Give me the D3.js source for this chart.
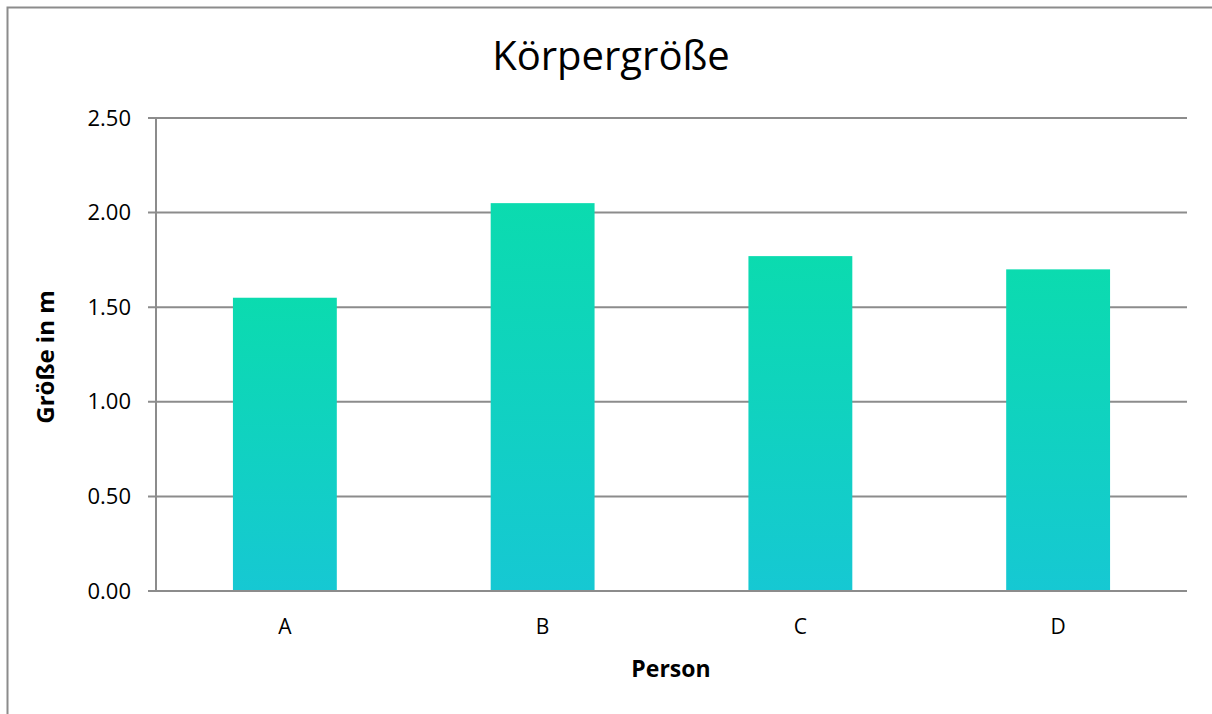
<!DOCTYPE html>
<html>
<head>
<meta charset="utf-8">
<script src="https://cdn.jsdelivr.net/npm/d3@7"></script>
<style>
  body { margin: 0; background: #fff; }
  text { font-family: "Open Sans", "Noto Sans", sans-serif; fill: #000; }
</style>
</head>
<body>
<div id="chart"></div>
<script>
var persons = ["A", "B", "C", "D"];
var heights = [1.55, 2.05, 1.77, 1.70];
var yTicks = [0, 0.5, 1.0, 1.5, 2.0, 2.5];

var svgWidth = 1212;
var svgHeight = 714;
var margin = {
    top: 118,
    right: 25,
    bottom: 123,
    left: 156
};
var width = svgWidth - margin.left - margin.right;
var height = svgHeight - margin.top - margin.bottom;

var svg = d3.select("#chart")
    .append("svg")
    .attr("width", svgWidth)
    .attr("height", svgHeight);

// chart frame
svg.append("rect")
    .attr("x", 7.5)
    .attr("y", 7.5)
    .attr("width", 1220)
    .attr("height", 720)
    .attr("fill", "none")
    .attr("stroke", "#8c8c8c")
    .attr("stroke-width", 2);

var grad = svg.append("defs").append("linearGradient")
    .attr("id", "barFill")
    .attr("x1", 0).attr("y1", 0)
    .attr("x2", 0).attr("y2", 1);
grad.append("stop").attr("offset", "0%").attr("stop-color", "#0bdbaf");
grad.append("stop").attr("offset", "100%").attr("stop-color", "#16c8d3");

var chartGroup = svg.append("g")
    .attr("transform", `translate(${margin.left},${margin.top})`);

var xScale = d3.scaleBand()
    .domain(persons)
    .range([0, width])
    .paddingInner(0.597)
    .paddingOuter(0.2985);

var yScale = d3.scaleLinear()
    .domain([0, 2.5])
    .range([height, 0]);

// gridlines
chartGroup.append("g")
    .selectAll("line")
    .data(yTicks)
    .enter()
    .append("line")
    .attr("x1", -8)
    .attr("x2", width)
    .attr("y1", d => yScale(d))
    .attr("y2", d => yScale(d))
    .attr("stroke", "#8c8c8c")
    .attr("stroke-width", 2);

// y axis line
chartGroup.append("line")
    .attr("x1", 0).attr("x2", 0)
    .attr("y1", 0).attr("y2", height)
    .attr("stroke", "#8c8c8c")
    .attr("stroke-width", 2);

var leftAxis = d3.axisLeft(yScale)
    .tickValues(yTicks)
    .tickFormat(d3.format(".2f"))
    .tickSize(0)
    .tickPadding(25);

chartGroup.append("g")
    .call(leftAxis)
    .call(g => g.select(".domain").remove())
    .attr("font-family", null)
    .attr("font-size", 22);

chartGroup.selectAll(".bar")
    .data(heights)
    .enter()
    .append("rect")
    .attr("class", "bar")
    .attr("x", (d, i) => xScale(persons[i]))
    .attr("width", xScale.bandwidth())
    .attr("y", d => yScale(d))
    .attr("height", d => height - yScale(d))
    .attr("fill", "url(#barFill)");

// baseline redrawn on top of bars
chartGroup.append("line")
    .attr("x1", -8).attr("x2", width)
    .attr("y1", height).attr("y2", height)
    .attr("stroke", "#8c8c8c")
    .attr("stroke-width", 2);

var bottomAxis = d3.axisBottom(xScale)
    .tickSize(0)
    .tickPadding(28);

chartGroup.append("g")
    .attr("transform", `translate(0,${height})`)
    .call(bottomAxis)
    .call(g => g.select(".domain").remove())
    .attr("font-family", null)
    .attr("font-size", 21);

// title
svg.append("text")
    .attr("x", 611)
    .attr("y", 70)
    .attr("text-anchor", "middle")
    .attr("font-size", 40)
    .text("Körpergröße");

// axis titles
svg.append("text")
    .attr("x", 671)
    .attr("y", 677)
    .attr("text-anchor", "middle")
    .attr("font-size", 23)
    .attr("font-weight", "bold")
    .text("Person");

svg.append("text")
    .attr("transform", "translate(54,357) rotate(-90)")
    .attr("text-anchor", "middle")
    .attr("font-size", 24)
    .attr("font-weight", "bold")
    .text("Größe in m");
</script>
</body>
</html>
